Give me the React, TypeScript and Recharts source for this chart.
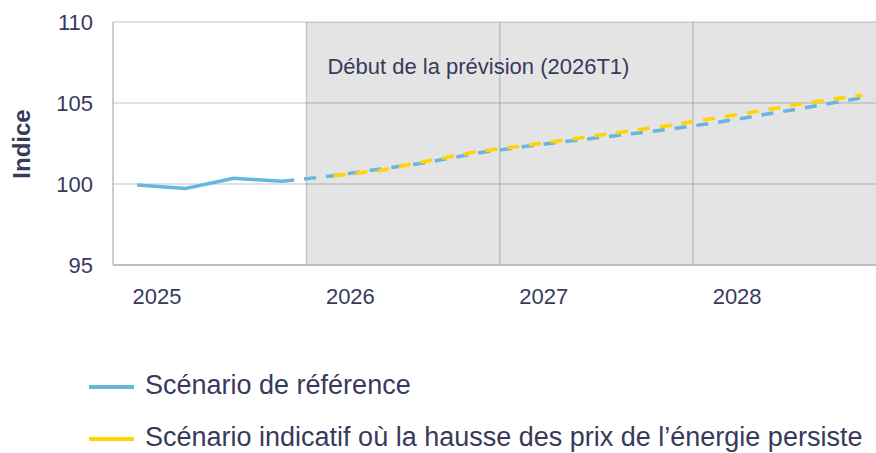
import {
  LineChart,
  Line,
  XAxis,
  YAxis,
  CartesianGrid,
  ReferenceArea,
} from "recharts"

const quarters = [
  "2025T1", "2025T2", "2025T3", "2025T4",
  "2026T1", "2026T2", "2026T3", "2026T4",
  "2027T1", "2027T2", "2027T3", "2027T4",
  "2028T1", "2028T2", "2028T3", "2028T4",
]

// Scénario de référence (observed up to 2025T4, then forecast)
const referenceScenario = [
  99.94, 99.73, 100.35, 100.17,
  100.49, 100.91, 101.33, 101.89,
  102.31, 102.67, 103.02, 103.38,
  103.8, 104.3, 104.8, 105.33,
]

// Scénario indicatif (prix de l'énergie élevés), starts with the forecast
const energyScenario = [
  null, null, null, null,
  100.49, 100.82, 101.42, 101.98,
  102.37, 102.78, 103.2, 103.61,
  104.09, 104.57, 105.07, 105.5,
]

const lastObserved = 3
const yearLabels = ["2025", "2026", "2027", "2028"]
const yearTicks = [0, 4, 8, 12]
const indexTicks = [95, 100, 105, 110]

const legendItems = [
  { name: "Scénario de référence", color: "#66b6dd" },
  { name: "Scénario indicatif où la hausse des prix de l’énergie persiste", color: "#ffd400" },
]

const data = quarters.map((q, i) => ({
  q,
  t: i + 0.5,
  hist: i <= lastObserved ? referenceScenario[i] : null,
  ref: i >= lastObserved ? referenceScenario[i] : null,
  energy: energyScenario[i],
}))

const FONT = "'Liberation Sans', Arial, sans-serif"
const TEXT = "#383a5c"

function YearTick({ x, y, payload }: any) {
  return (
    <text x={x + 44} y={y + 39} textAnchor="middle" fill={TEXT} fontSize={22} fontFamily={FONT}>
      {yearLabels[payload.value / 4]}
    </text>
  )
}

function IndexTick({ x, y, payload }: any) {
  return (
    <text x={x} y={y + 8} textAnchor="end" fill={TEXT} fontSize={22} fontFamily={FONT}>
      {payload.value}
    </text>
  )
}

function ForecastLabel({ viewBox }: any) {
  return (
    <text x={viewBox.x + 21} y={viewBox.y + 52} fill={TEXT} fontSize={22} fontFamily={FONT}>
      Début de la prévision (2026T1)
    </text>
  )
}

export default function App() {
  return (
    <div
      style={{
        position: "absolute",
        left: 0,
        top: 0,
        width: 876,
        height: 453,
        overflow: "hidden",
        background: "#fff",
        fontFamily: FONT,
      }}
    >
      <LineChart
        width={900}
        height={453}
        data={data}
        margin={{ top: 22, right: 13.5, left: 53, bottom: 158 }}
      >
        <CartesianGrid
          stroke="rgba(0,0,0,0.16)"
          strokeWidth={1.5}
          horizontalValues={indexTicks}
          verticalValues={yearTicks}
        />
        <ReferenceArea
          x1={4}
          x2={16}
          fill="#000"
          fillOpacity={0.105}
          stroke="none"
          label={<ForecastLabel />}
        />
        <XAxis
          type="number"
          dataKey="t"
          domain={[0, 16]}
          ticks={yearTicks}
          interval={0}
          allowDataOverflow
          height={30}
          tickSize={0}
          tickMargin={0}
          tick={<YearTick />}
          axisLine={{ stroke: "#bdbdbd", strokeWidth: 2 }}
          tickLine={false}
        />
        <YAxis
          type="number"
          domain={[95, 110]}
          ticks={indexTicks}
          interval={0}
          width={60}
          tickSize={0}
          tickMargin={20}
          tick={<IndexTick />}
          axisLine={{ stroke: "#c4c4c4", strokeWidth: 1.5 }}
          tickLine={false}
          label={({ viewBox }: any) => (
            <text
              x={21}
              y={144}
              transform="rotate(-90, 21, 144)"
              textAnchor="middle"
              dominantBaseline="central"
              fill={TEXT}
              fontSize={24}
              fontWeight="bold"
              fontFamily={FONT}
            >
              Indice
            </text>
          )}
        />
        <Line
          dataKey="hist"
          stroke="#66b6dd"
          strokeWidth={3.5}
          dot={false}
          activeDot={false}
          isAnimationActive={false}
          connectNulls={false}
        />
        <Line
          dataKey="ref"
          stroke="#66b6dd"
          strokeWidth={3.5}
          strokeDasharray="12 10"
          dot={false}
          activeDot={false}
          isAnimationActive={false}
        />
        <Line
          dataKey="energy"
          stroke="#ffd400"
          strokeWidth={3.5}
          strokeDasharray="12 10"
          strokeDashoffset={-3}
          dot={false}
          activeDot={false}
          isAnimationActive={false}
        />
      </LineChart>

      {legendItems.map((item, i) => {
        const baseline = 394 + i * 52
        return (
          <div key={item.name}>
            <div
              style={{
                position: "absolute",
                left: 89,
                top: baseline - 9,
                width: 45,
                height: 4,
                background: item.color,
              }}
            />
            <div
              style={{
                position: "absolute",
                left: 145,
                top: baseline - 25.3,
                lineHeight: "32px",
                fontSize: 27,
                color: TEXT,
                whiteSpace: "nowrap",
              }}
            >
              {item.name}
            </div>
          </div>
        )
      })}
    </div>
  )
}
